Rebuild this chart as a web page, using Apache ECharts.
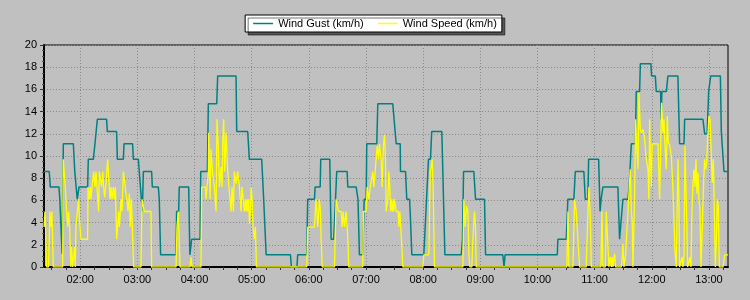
<!DOCTYPE html>
<html>
<head>
<meta charset="utf-8">
<script src="https://cdn.jsdelivr.net/npm/echarts@6/dist/echarts.min.js"></script>
<style>
html,body{margin:0;padding:0;background:#c0c0c0;}
#chart{width:750px;height:300px;}
</style>
</head>
<body>
<div id="chart"></div>
<script>
// time values are minutes since midnight
const seriesNames = ['Wind Gust (km/h)', 'Wind Speed (km/h)'];
const hourTicks = [120,180,240,300,360,420,480,540,600,660,720,780];
const hourLabels = ['02:00','03:00','04:00','05:00','06:00','07:00','08:00','09:00','10:00','11:00','12:00','13:00'];
const quarterTicks = [90,105,120,135,150,165,180,195,210,225,240,255,270,285,300,315,330,345,360,375,390,405,420,435,450,465,480,495,510,525,540,555,570,585,600,615,630,645,660,675,690,705,720,735,750,765,780,795];
const yTicks = [0,2,4,6,8,10,12,14,16,18,20];

const gust = [[82,8.6],[87.5,8.6],[88.6,7.2],[97.7,7.2],[98.6,6.1],[100,6.1],[101,1.2],[102.3,11.1],[112.8,11.1],[114.3,8.6],[115.4,8.6],[116.9,6.1],[118.7,7.2],[127.8,7.2],[128.5,9.7],[133.8,9.7],[135.5,11.1],[137.2,11.1],[138,13.3],[147.7,13.3],[148.5,12.2],[158.2,12.2],[159,9.7],[165.3,9.7],[166,11.1],[175,11.1],[175.8,9.7],[181,9.7],[185.2,5.0],[186.3,8.6],[195,8.6],[195.7,7.2],[202,7.2],[203,6.1],[204.4,1.1],[220.6,1.1],[221.2,5.0],[223.3,5.0],[224,7.2],[233.9,7.2],[235.1,1.1],[237,2.5],[245.8,2.5],[246.5,8.6],[253.5,8.6],[254.5,14.7],[263.3,14.7],[264.3,17.2],[283.6,17.2],[284.3,12.2],[295.8,12.2],[297.6,9.7],[310.5,9.7],[312.6,6.1],[314.4,6.1],[315.2,1.1],[340.7,1.1],[341.7,0],[347.5,0],[348.3,1.1],[357.8,1.1],[358.8,6.1],[365.9,6.1],[366.6,7.2],[371.9,7.2],[372.5,9.7],[382,9.7],[383.4,2.5],[386.1,2.5],[389.3,8.6],[400.2,8.6],[400.9,7.2],[409.7,7.2],[411.6,6.1],[413.1,1.1],[416.6,1.1],[418.1,6.1],[420.2,6.1],[420.8,11.1],[431.3,11.1],[432.4,14.7],[448.1,14.7],[451.7,11.1],[455.9,11.1],[456.2,8.6],[461.5,8.6],[462.8,6.1],[465.7,6.1],[466.4,5.0],[467.4,5.0],[468.1,1.1],[480.7,1.1],[485.6,9.7],[487.7,9.7],[489,12.2],[499.6,12.2],[502.8,1.1],[520,1.1],[521.3,2.5],[522.4,8.6],[533.2,8.6],[535,6.1],[544.4,6.1],[545.5,1.1],[563.6,1.1],[564.9,0],[566,1.1],[620.8,1.1],[621.4,2.5],[630.2,2.5],[631.9,6.1],[638.2,6.1],[639.7,8.6],[648.7,8.6],[650.2,6.1],[652.9,6.1],[653.7,9.7],[664.2,9.7],[665.7,5.0],[666.8,6.1],[668.7,7.2],[684.4,7.2],[686.2,2.5],[688,2.5],[689.7,6.1],[694.9,6.1],[696.2,7.2],[698.5,11.1],[702.7,11.1],[703.7,15.8],[707.2,15.8],[708,18.3],[719.1,18.3],[719.8,17.2],[723.7,17.2],[724.7,15.8],[729.3,15.8],[729.8,13.3],[730.6,15.8],[735.3,15.8],[736.9,17.2],[747.4,17.2],[749.2,11.1],[753.8,11.1],[754.5,13.3],[773.7,13.3],[775.5,12.0],[778.1,12.0],[779.7,15.8],[781.8,17.2],[792,17.2],[793,12.2],[794.7,12.2],[795.8,8.6],[800,8.6]];

const speed = [[82,3.6],[83,5.0],[83.6,3.6],[84.7,0],[86.8,0],[88.2,5.0],[89.3,3.6],[90.3,5.0],[91,5.0],[91.7,0],[101.6,0],[102.2,9.7],[103.3,9.7],[104.3,7.2],[105.7,5.0],[106.8,3.6],[107.8,5.0],[108.9,3.6],[110.3,0],[111,1.8],[112.1,0],[113.1,0],[114.1,1.8],[114.8,0],[115.5,3.6],[118.3,6.1],[119.1,4.5],[120.8,2.5],[127.8,2.5],[128.2,7.2],[129.6,6.1],[130.6,7.2],[131.3,6.1],[132.4,7.2],[134.1,8.6],[135.5,7.2],[136.6,8.6],[137.6,7.2],[139.4,5.0],[140.1,8.6],[141.8,8.6],[142.5,7.2],[143.6,8.6],[144.6,7.2],[145.7,6.3],[147.1,7.5],[148.8,9.7],[149.9,8.1],[151.3,6.1],[152.3,7.2],[153.4,6.1],[154.8,7.2],[155.8,6.1],[156.9,7.2],[158.3,2.5],[159.3,3.6],[160.4,5.0],[161.1,3.6],[162.1,5.0],[162.8,6.1],[163.9,5.0],[165.3,8.6],[166.7,8.6],[168.1,6.6],[169.1,6.1],[170.2,5.0],[171.6,6.6],[172.6,3.6],[173.7,6.1],[175.1,2.5],[176.1,0],[183.8,0],[184.9,6.1],[186.3,6.1],[187.3,5.0],[194.3,5.0],[195,0],[220.6,0],[221.6,3.6],[223,5.0],[224.1,5.0],[224.8,0],[235.3,0],[236.3,0.9],[237.4,0],[246.8,0],[247.5,7.2],[251.4,7.2],[252.1,6.1],[253.1,7.2],[254.5,8.4],[254.9,12.1],[256.3,6.1],[257.3,10.6],[259.1,8.4],[260.8,7.2],[262.6,5.0],[263.6,13.3],[265,10.6],[266.1,7.2],[267.8,9.0],[268.9,7.2],[269.6,11.2],[270.6,13.3],[271.7,8.6],[273.1,12.1],[274.8,8.6],[276.6,8.6],[278.3,5.0],[279.4,7.2],[280.8,5.0],[281.8,8.6],[283.6,7.5],[285.3,8.6],[287.1,7.2],[288.2,7.2],[288.9,5.0],[289.9,7.2],[291.7,7.2],[292.4,5.0],[293.4,6.1],[294.1,5.0],[295.2,6.1],[295.9,5.0],[296.9,6.1],[297.6,3.9],[298.7,5.0],[299.4,7.2],[300.4,6.1],[301.5,3.6],[302.9,2.5],[303.9,3.6],[305,0],[357.8,0],[358.9,3.6],[365.9,3.6],[367.6,6.1],[369.4,3.6],[371.1,6.1],[372.2,5.0],[372.9,2.5],[374,0],[386.9,0],[388.6,6.1],[389.7,6.1],[391.1,5.0],[393.9,5.0],[394.9,3.6],[396,5.0],[397.4,3.6],[399.1,5.0],[400.2,3.6],[400.9,2.5],[401.9,0],[416.6,0],[417.3,5.0],[420.1,5.0],[421.2,7.2],[423,6.1],[424.4,7.2],[426.1,7.2],[427.1,8.6],[428.2,7.2],[429.6,8.6],[430.6,9.7],[431.7,10.9],[433.1,9.7],[434.1,11.1],[435.9,9.7],[436.9,7.2],[438.4,11.1],[439.4,11.9],[440.4,10.0],[441.2,5.0],[442.9,6.1],[444,8.6],[445,7.2],[445.7,5.0],[446.4,6.1],[447.5,5.0],[448.5,6.1],[449.2,5.0],[449.9,6.1],[450.8,6.1],[451.7,5.0],[453.8,5.0],[454.5,3.6],[455.5,5.0],[456.2,4.1],[457.6,1.8],[458.7,0],[479.7,0],[480.7,1.1],[486,1.1],[487.4,8.6],[488.4,9.0],[489.5,9.7],[490.5,7.2],[491.2,3.6],[491.9,0],[521.7,0],[522.7,6.1],[524.1,3.6],[525.5,5.5],[526.9,5.0],[528,1.2],[529,0],[531.1,0],[532.2,2.5],[533.9,5.0],[535,3.6],[535.7,0],[630.9,0],[632,5.0],[633,0],[637.2,0],[639,6.1],[640.7,5.0],[642.5,5.0],[644.2,0],[651.2,0],[653,5.0],[654,7.2],[655.4,4.5],[656.5,0],[666.6,0],[667.7,5.0],[668.7,0],[671.2,0],[672.2,5.0],[674,5.0],[675,0],[676.4,0.9],[677.5,0],[678.5,0.9],[679.2,0],[681,1.2],[682,0],[688,0],[689,0.9],[689.7,2.1],[690.8,0],[692.5,1.1],[693.9,1.1],[695,5.0],[696,5.0],[697.4,8.8],[698.5,5.1],[699.5,4.0],[700.2,0],[702,6.6],[703,13.3],[704.4,10.6],[705.5,8.8],[706.5,15.7],[707.9,12.4],[709,12.1],[710.7,12.4],[712.5,11.5],[714.2,9.7],[715.3,9.7],[716,8.8],[717,6.1],[717.7,13.3],[718.4,10.6],[719.5,7.2],[720.5,11.1],[726.5,11.1],[728.2,6.1],[729.3,10.6],[730.3,14.8],[731.7,12.1],[732.8,13.3],[733.8,11.0],[735.2,8.8],[736.3,13.6],[737.3,11.2],[738.7,11.0],[740.5,10.0],[742.2,7.0],[743.3,7.0],[744.3,1.5],[745.7,0],[747.5,9.7],[748.5,6.0],[749.2,0],[751,0],[752,0.9],[752.7,0],[753.8,0.9],[754.8,10.9],[756.2,6.1],[757.6,0],[759,0],[760.1,0.9],[761.1,0],[762.2,5.2],[763.2,7.6],[764.3,8.8],[765.3,7.2],[766.4,9.7],[767.4,6.6],[768.5,8.5],[769.5,6.1],[770.6,5.2],[771.6,0],[773,3.6],[774.4,7.6],[775.5,9.7],[776.5,8.8],[777.6,9.4],[778.6,11.5],[780,13.6],[781.1,13.3],[782.5,13.3],[783.5,7.6],[784.6,9.7],[785.6,5.2],[786.7,0],[787.7,2.1],[788.8,6.1],[789.8,5.5],[790.9,0],[794.7,0],[796.5,1.1],[800,1.1]];

const chart = echarts.init(document.getElementById('chart'), null, {renderer:'canvas'});
const font = 'Liberation Sans, Arial, sans-serif';
const gridLineStyle = {color:'#8a8a8a', width:1, type:[1,2]};
function hourFmt(v){
  const i = hourTicks.indexOf(Math.round(v));
  return i >= 0 ? hourLabels[i] : '';
}
chart.setOption({
  animation:false,
  backgroundColor:'#c0c0c0',
  textStyle:{fontFamily:font},
  legend:{
    top:15, left:'center',
    data:seriesNames,
    icon:'rect', itemWidth:20, itemHeight:1.5, itemGap:14,
    padding:[3,5,3,8],
    backgroundColor:'#ffffff', borderColor:'#000', borderWidth:1,
    shadowColor:'rgba(0,0,0,0.55)', shadowOffsetX:3, shadowOffsetY:3, shadowBlur:0,
    textStyle:{fontSize:11, color:'#000', fontFamily:font}
  },
  grid:{left:44, right:22, top:45, bottom:33, show:true, borderColor:'#000', borderWidth:1, backgroundColor:'transparent'},
  xAxis:[{
    type:'value', min:82, max:800,
    axisLine:{show:true, onZero:false, lineStyle:{color:'#000', width:2}},
    axisTick:{show:true, customValues:quarterTicks, length:3, lineStyle:{color:'#333'}},
    axisLabel:{customValues:hourTicks, formatter:hourFmt, color:'#000', fontSize:11, margin:7, fontFamily:font},
    splitLine:{show:false}
  },{
    type:'value', min:82, max:800, position:'bottom',
    axisLine:{show:false},
    axisTick:{show:false, customValues:hourTicks},
    axisLabel:{show:false, customValues:hourTicks},
    splitLine:{show:true, lineStyle:gridLineStyle}
  }],
  yAxis:{
    type:'value', min:yTicks[0], max:yTicks[yTicks.length-1], interval:2,
    axisLine:{show:true, lineStyle:{color:'#000', width:2}},
    axisTick:{show:true, length:4, lineStyle:{color:'#333'}},
    minorTick:{show:true, splitNumber:4, length:2, lineStyle:{color:'#555'}},
    axisLabel:{color:'#000', fontSize:11, margin:7, fontFamily:font},
    splitLine:{show:true, lineStyle:gridLineStyle}
  },
  series:[{
    name:seriesNames[0], type:'line', data:gust, xAxisIndex:0,
    showSymbol:false, symbol:'none',
    lineStyle:{color:'#008080', width:1.5}, itemStyle:{color:'#008080'}
  },{
    name:seriesNames[1], type:'line', data:speed, xAxisIndex:0,
    showSymbol:false, symbol:'none',
    lineStyle:{color:'#ffff00', width:1.3}, itemStyle:{color:'#ffff00'}
  }]
});
</script>
</body>
</html>
